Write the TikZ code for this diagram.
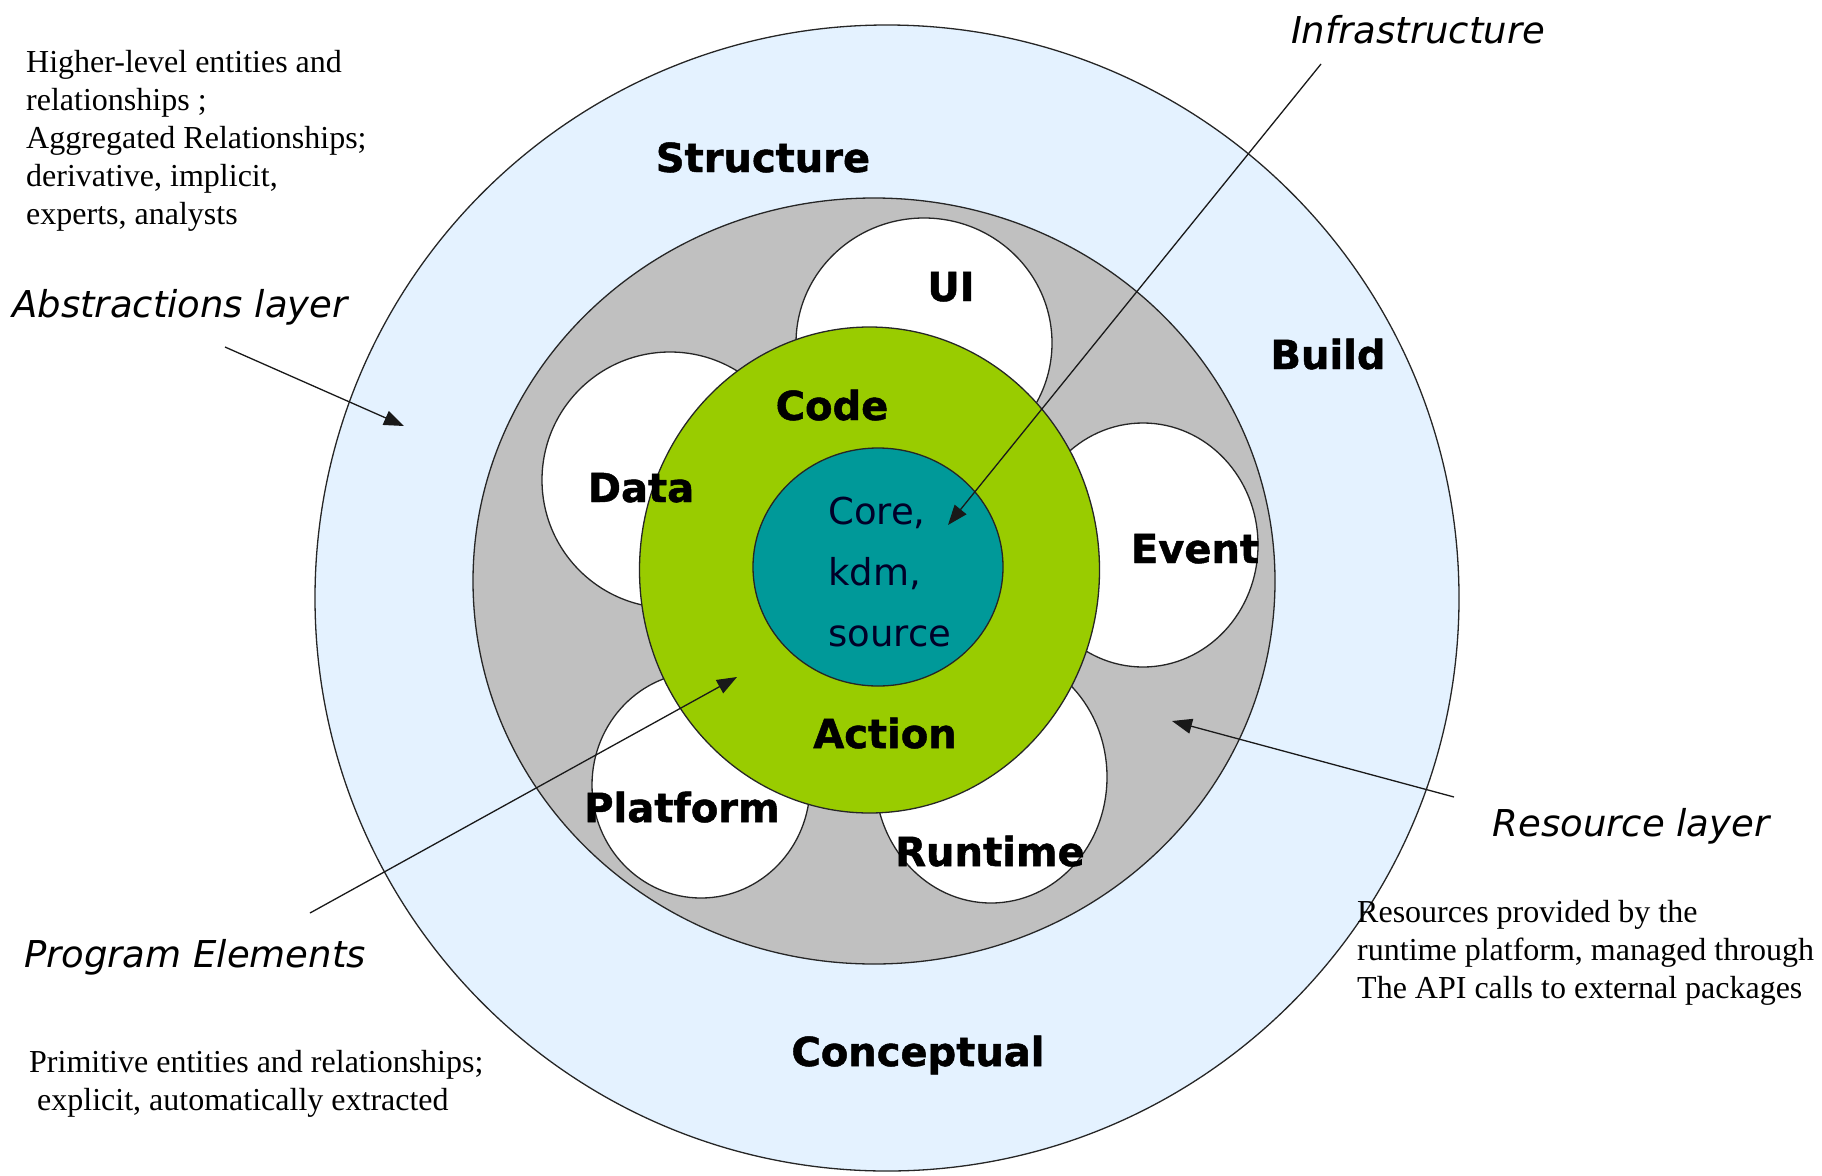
\documentclass[tikz,border=0pt]{standalone}
\usepackage{fontspec}
\setmainfont{Liberation Serif}
\setsansfont{DejaVu Sans}
\newfontfamily\partfont{DejaVu Sans}[BoldFeatures={FakeBold=1.2}]
\usepackage{tikz}
\usetikzlibrary{arrows.meta,positioning}

\definecolor{skyfill}{RGB}{228,242,255}
\definecolor{greyfill}{RGB}{192,192,192}
\definecolor{limefill}{RGB}{153,204,0}
\definecolor{tealfill}{RGB}{0,153,153}
\definecolor{coretext}{RGB}{0,0,40}

\begin{document}
\begin{tikzpicture}[x=1pt,y=-1pt]
    \tikzstyle{layer}=[draw=black!85,line width=1.3pt]
    \tikzstyle{part}=[font=\partfont\bfseries\fontsize{40}{48}\selectfont,anchor=base,inner sep=0pt]
    \tikzstyle{title}=[font=\sffamily\itshape\fontsize{37}{44}\selectfont,anchor=base,inner sep=0pt]
    \tikzstyle{note}=[font=\rmfamily\fontsize{32}{38}\selectfont,align=left,anchor=north west,inner sep=0pt]
    \tikzstyle{pointer}=[-{Triangle[length=20pt,width=15pt]},line width=1.3pt,draw=black!90]

    \useasboundingbox (0,0) rectangle (1822,1175);

    % layers, outside in
    \path[layer,fill=skyfill] (887,598) ellipse [x radius=572,y radius=573];
    \path[layer,fill=greyfill] (874,581) ellipse [x radius=401,y radius=383];
    \path[layer,fill=white] (924,343) ellipse [x radius=128,y radius=125];
    \path[layer,fill=white] (670,480) ellipse [x radius=128,y radius=128];
    \path[layer,fill=white] (1143,545) ellipse [x radius=115,y radius=122];
    \path[layer,fill=white] (701,785) ellipse [x radius=109,y radius=113];
    \path[layer,fill=white] (991,777) ellipse [x radius=116,y radius=126];
    \path[layer,fill=limefill] (869.5,570) ellipse [x radius=230,y radius=243];
    \path[layer,fill=tealfill] (878,567) ellipse [x radius=125,y radius=119];

    % ring names
    \node[part] (structure) at (763,172) {Structure};
    \node[part] (build) at (1328,369) {Build};
    \node[part] (conceptual) at (918,1066) {Conceptual};
    \node[part] (ui) at (951,301) {UI};
    \node[part] (data) at (641,502) {Data};
    \node[part] (event) at (1195,563) {Event};
    \node[part] (platform) at (682,822) {Platform};
    \node[part] (runtime) at (990,866) {Runtime};
    \node[part] (code) at (832,420) {Code};
    \node[part] (action) at (885,748) {Action};
    \node[font=\sffamily\fontsize{37}{61}\selectfont,text=coretext,align=left,anchor=north west,inner sep=0pt]
        (core) at (828,497) {Core,\\kdm,\\source};

    % callouts
    \node[title] (abstractions) at (180,317) {Abstractions layer};
    \node[title] (infrastructure) at (1418,43) {Infrastructure};
    \node[title] (resource) at (1631,836) {Resource layer};
    \node[title] (program) at (195,967) {Program Elements};

    \node[note] (higher) at (26,50) {Higher-level entities and\\relationships ;\\Aggregated Relationships;\\derivative, implicit,\\experts, analysts};
    \node[note] (resources) at (1357,900) {Resources provided by the\\runtime platform, managed through\\The API calls to external packages};
    \node[note] (primitive) at (29,1050) {Primitive entities and relationships;\\\ explicit, automatically extracted};

    \coordinate (abs-tail) at (225,347);
    \coordinate (abs-tip) at (404,426);
    \coordinate (infra-tail) at (1321,64);
    \coordinate (infra-tip) at (948,525);
    \coordinate (res-tail) at (1454,797);
    \coordinate (res-tip) at (1172,721);
    \coordinate (prog-tail) at (310,913);
    \coordinate (prog-tip) at (737,677);

    \draw[pointer] (abs-tail) -- (abs-tip);
    \draw[pointer] (infra-tail) -- (infra-tip);
    \draw[pointer] (res-tail) -- (res-tip);
    \draw[pointer] (prog-tail) -- (prog-tip);
\end{tikzpicture}
\end{document}
